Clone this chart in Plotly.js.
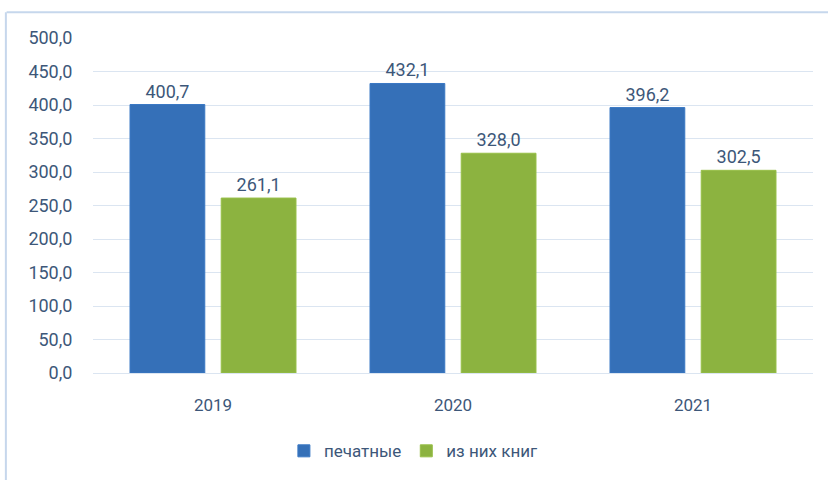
<!DOCTYPE html>
<html>
<head>
<meta charset="utf-8">
<script src="https://cdn.plot.ly/plotly-3.0.1.min.js"></script>
<style>html,body{margin:0;padding:0;background:#fff;}#chart{width:828px;height:480px;}</style>
</head>
<body>
<div id="chart"></div>
<script>
const categories = ['2019', '2020', '2021'];
const seriesNames = ['печатные', 'из них книг'];
const printed = [400.7, 432.1, 396.2];
const books = [261.1, 328.0, 302.5];
const yTicks = [0, 50, 100, 150, 200, 250, 300, 350, 400, 450, 500];

const textColor = '#3d5779';
const fontFam = 'Roboto, "Open Sans", sans-serif';

const traces = [
  {
    type: 'bar', name: seriesNames[0], x: categories, y: printed,
    marker: {color: '#3570b8', line: {color: '#3a78c4', width: 1}},
    texttemplate: '%{y:.1f}', textposition: 'outside', cliponaxis: false,
    textfont: {color: textColor, size: 18, family: fontFam}
  },
  {
    type: 'bar', name: seriesNames[1], x: categories, y: books,
    marker: {color: '#8cb340', line: {color: '#97bf47', width: 1}},
    texttemplate: '%{y:.1f}', textposition: 'outside', cliponaxis: false,
    textfont: {color: textColor, size: 18, family: fontFam}
  }
];

const layout = {
  width: 828, height: 480,
  margin: {l: 93, r: 15, t: 38, b: 106},
  paper_bgcolor: '#ffffff', plot_bgcolor: '#ffffff',
  separators: ', ',
  bargap: 0.24, bargroupgap: 0.18,
  font: {family: fontFam, color: textColor, size: 17},
  showlegend: true,
  legend: {orientation: 'h', x: 0.445, xanchor: 'center', y: -0.23, yanchor: 'middle',
           font: {size: 17, color: textColor}, itemwidth: 30, traceorder: 'normal'},
  xaxis: {type: 'category', showgrid: false, zeroline: false, showline: false,
          ticks: 'outside', ticklen: 17, tickcolor: 'rgba(0,0,0,0)',
          tickfont: {size: 17, color: textColor}},
  yaxis: {range: [0, 500], tickvals: yTicks, tickformat: '.1f',
          showgrid: true, gridcolor: '#dbe5f1', gridwidth: 1, zeroline: true, zerolinecolor: '#dbe5f1',
          showline: false, ticks: 'outside', ticklen: 16, tickcolor: 'rgba(0,0,0,0)',
          tickfont: {size: 18, color: textColor}},
  shapes: [
    {type: 'line', xref: 'paper', yref: 'paper', x0: -0.12, x1: 1.03, y0: 1.077, y1: 1.077,
     line: {color: '#c6d7ec', width: 2}},
    {type: 'line', xref: 'paper', yref: 'paper', x0: -0.121, x1: -0.121, y0: 1.077, y1: -0.32,
     line: {color: '#c6d7ec', width: 2}}
  ]
};

Plotly.newPlot('chart', traces, layout, {displayModeBar: false, staticPlot: true});
</script>
</body>
</html>
